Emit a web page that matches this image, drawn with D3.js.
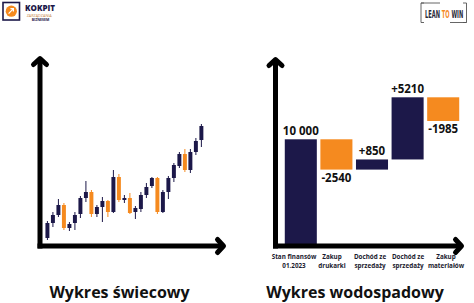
<!DOCTYPE html>
<html>
<head>
<meta charset="utf-8">
<script src="https://cdn.jsdelivr.net/npm/d3@7"></script>
<style>
  body { margin: 0; background: #fff; }
  svg { display: block; font-family: "Open Sans", sans-serif; }
</style>
</head>
<body>
<svg id="chart" width="474" height="303"></svg>
<script>
// candlestick data (price units)
var opens  = [12, 27, 35, 45, 22, 27, 36, 52, 58, 36, 43, 49, 38, 73, 50, 52, 38, 41, 55, 64, 72, 38, 58, 72, 84, 96, 80, 98, 110]
var closes = [27, 35, 45, 22, 26, 35, 52, 58, 36, 43, 49, 38, 73, 50, 52, 37, 42, 55, 63, 72, 38, 58, 72, 85, 96, 80, 98, 109, 124]
var highs  = [29, 38, 51, 47, 28, 38, 54, 69, 60, 45, 53, 50, 80, 76, 55, 57, 44, 58, 67, 73, 73, 60, 74, 87, 98, 101, 101, 112, 126]
var lows   = [10, 23, 33, 20, 19, 20, 32, 48, 33, 33, 28, 33, 37, 48, 47, 36, 31, 38, 52, 62, 36, 37, 51, 68, 82, 78, 77, 95, 103]

// waterfall data
var wfCategories = [["Stan finansów", "01.2023"], ["Zakup", "drukarki"], ["Dochód ze", "sprzedaży"], ["Dochód ze", "sprzedaży"], ["Zakup", "materiałów"]]
var wfValues = [10000, -2540, 850, 5210, -1985]
var wfLabels = ["10 000", "-2540", "+850", "+5210", "-1985"]

var titles = ["Wykres świecowy", "Wykres wodospadowy"]

var NAVY = "#1c1849"
var ORANGE = "#f58a1f"

var svg = d3.select("#chart")

function drawAxes(x0, xEnd, yTop, yBase) {
    var g = svg.append("g")
    g.append("line").attr("x1", x0).attr("y1", yBase + 2.5).attr("x2", x0).attr("y2", yTop + 1)
        .attr("stroke", "#000").attr("stroke-width", 5)
    g.append("line").attr("x1", x0 - 2.5).attr("y1", yBase).attr("x2", xEnd - 1).attr("y2", yBase)
        .attr("stroke", "#000").attr("stroke-width", 5)
    // arrow heads
    g.append("polyline")
        .attr("points", [[x0 - 6.5, yTop + 7.5], [x0, yTop + 1.5], [x0 + 6.5, yTop + 7.5]].join(" "))
        .attr("fill", "none").attr("stroke", "#000").attr("stroke-width", 5)
        .attr("stroke-linejoin", "round").attr("stroke-linecap", "round")
    g.append("polyline")
        .attr("points", [[xEnd - 7.5, yBase - 6.5], [xEnd - 1.5, yBase], [xEnd - 7.5, yBase + 6.5]].join(" "))
        .attr("fill", "none").attr("stroke", "#000").attr("stroke-width", 5)
        .attr("stroke-linejoin", "round").attr("stroke-linecap", "round")
}

// ---- candlestick chart ----
var cx = d3.scaleBand().domain(d3.range(opens.length)).range([43.9, 204.9]).padding(0.28)
var cy = d3.scaleLinear().domain([0, 130]).range([250, 120])

var candles = svg.append("g").selectAll("g").data(opens).join("g")
    .attr("fill", function(d, i) { return closes[i] >= opens[i] ? NAVY : ORANGE })
    .attr("stroke", function(d, i) { return closes[i] >= opens[i] ? NAVY : ORANGE })

candles.append("line")
    .attr("x1", function(d, i) { return cx(i) + cx.bandwidth() / 2 })
    .attr("x2", function(d, i) { return cx(i) + cx.bandwidth() / 2 })
    .attr("y1", function(d, i) { return cy(highs[i]) })
    .attr("y2", function(d, i) { return cy(lows[i]) })
    .attr("stroke-width", 1)

candles.append("rect")
    .attr("x", function(d, i) { return cx(i) })
    .attr("width", cx.bandwidth())
    .attr("y", function(d, i) { return cy(Math.max(opens[i], closes[i])) })
    .attr("height", function(d, i) { return Math.max(1.5, Math.abs(cy(opens[i]) - cy(closes[i]))) })
    .attr("stroke", "none")

drawAxes(40, 225, 57, 246)

// ---- waterfall chart ----
var wx = d3.scaleBand().domain(d3.range(wfValues.length)).range([283, 461])
    .paddingInner(0.1).paddingOuter(0.05)
var wy = d3.scaleLinear().domain([1056, 13520]).range([246, 97.3]).clamp(true)
// category labels sit on their own even grid under the bars
var wl = d3.scalePoint().domain(d3.range(wfValues.length)).range([294, 446])

var running = 0
var steps = wfValues.map(function(v, i) {
    var start = i === 0 ? 0 : running
    running = start + v
    return { i: i, v: v, start: start, end: running }
})

var bars = svg.append("g").selectAll("g").data(steps).join("g")
bars.append("rect")
    .attr("x", function(d) { return wx(d.i) })
    .attr("width", wx.bandwidth())
    .attr("y", function(d) { return wy(Math.max(d.start, d.end)) })
    .attr("height", function(d) { return wy(Math.min(d.start, d.end)) - wy(Math.max(d.start, d.end)) })
    .attr("fill", function(d) { return d.v >= 0 ? NAVY : ORANGE })

bars.append("text")
    .attr("x", function(d) { return wx(d.i) + wx.bandwidth() / 2 })
    .attr("y", function(d) { return d.v >= 0 ? wy(d.end) - 4 : wy(d.end) + 12.5 })
    .attr("text-anchor", "middle")
    .attr("font-size", 11.5).attr("font-weight", 700).attr("fill", "#111")
    .text(function(d) { return wfLabels[d.i] })

drawAxes(275.5, 463, 58, 246)

wfCategories.forEach(function(lines, i) {
    var t = svg.append("text")
        .attr("text-anchor", "middle")
        .attr("font-size", 6.3).attr("font-weight", 700).attr("fill", "#1a1a2e")
    lines.forEach(function(s, j) {
        t.append("tspan").attr("x", wl(i)).attr("y", 259 + j * 8.5).text(s)
    })
})

// ---- titles ----
svg.selectAll(".title").data(titles).join("text")
    .attr("class", "title")
    .attr("x", function(d, i) { return i === 0 ? 119.5 : 355 })
    .attr("y", 298)
    .attr("text-anchor", "middle")
    .attr("font-size", 16).attr("font-weight", 700).attr("fill", "#111")
    .text(function(d) { return d })

// ---- logos ----
var logo = svg.append("g")
logo.append("rect").attr("x", 3).attr("y", 2.5).attr("width", 16.5).attr("height", 17.5)
    .attr("fill", "#fff").attr("stroke", NAVY).attr("stroke-width", 1.6)
logo.append("circle").attr("cx", 11.3).attr("cy", 11.2).attr("r", 5.6).attr("fill", ORANGE)
logo.append("path").attr("d", "M8.6,13.6 L13.4,8.6 M10.4,8.6 L13.4,8.6 L13.4,11.6")
    .attr("fill", "none").attr("stroke", "#fff").attr("stroke-width", 1.2)
logo.append("text").attr("x", 25).attr("y", 11.2).attr("font-size", 9.5).attr("font-weight", 800)
    .attr("fill", NAVY).attr("textLength", 30).attr("lengthAdjust", "spacingAndGlyphs").text("KOKPIT")
logo.append("text").attr("x", 26.7).attr("y", 16.8).attr("font-size", 3.4)
    .attr("fill", "#c98a4d").attr("textLength", 25).attr("lengthAdjust", "spacingAndGlyphs").text("ZARZĄDZANIA")
logo.append("text").attr("x", 31.7).attr("y", 21).attr("font-size", 3.6).attr("font-weight", 700)
    .attr("fill", NAVY).attr("textLength", 17.5).attr("lengthAdjust", "spacingAndGlyphs").text("BIZNESEM")

var ltw = svg.append("g")
ltw.append("path").attr("d", "M424,3 L421,3 L421,22.5 L424,22.5 M463,3 L466.5,3 L466.5,22.5 L463,22.5 M421,3 L440,3 M450,22.5 L466.5,22.5")
    .attr("fill", "none").attr("stroke", "#555").attr("stroke-width", 0.9)
var lt = ltw.append("text").attr("font-size", 11).attr("font-weight", 700)
    .attr("font-family", "'Liberation Sans Narrow', 'DejaVu Sans Condensed', sans-serif")
    .attr("fill", "#2a2a3a")
lt.append("tspan").text("LEAN ")
lt.append("tspan").attr("fill", ORANGE).text("TO")
lt.append("tspan").text(" WIN")
// squeeze the wordmark horizontally to the logo's width
var sx = 38.3 / lt.node().getComputedTextLength()
lt.attr("transform", "translate(425,18.2) scale(" + sx + ",1)")
</script>
</body>
</html>
